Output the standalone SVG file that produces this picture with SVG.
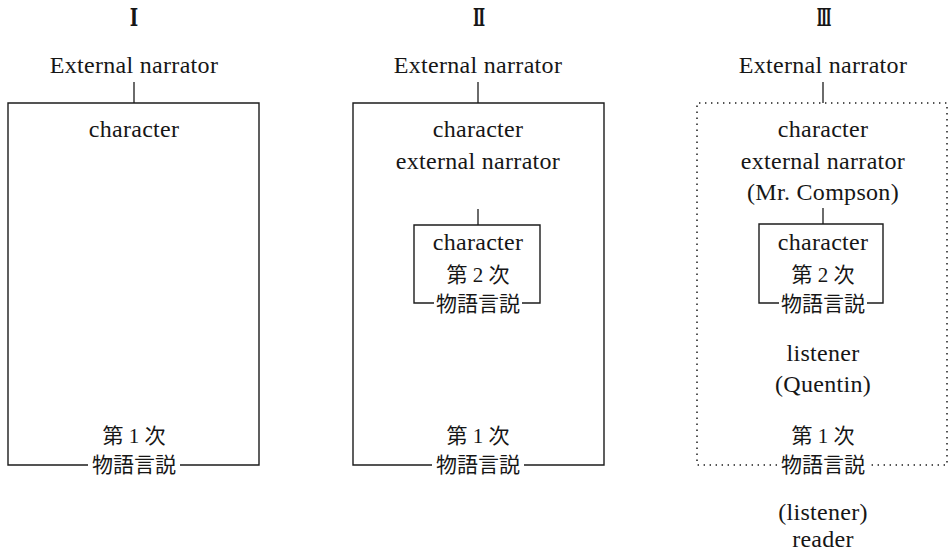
<svg xmlns="http://www.w3.org/2000/svg" width="950" height="557" viewBox="0 0 950 557">
  <style>
    .t { font-family: "Liberation Serif", "Times New Roman", "DejaVu Serif", "Noto Sans CJK JP", serif; font-size: 24px; letter-spacing: 0.3px; fill: #161616; text-anchor: middle; }
    .j { font-family: "Liberation Serif", "Times New Roman", "Noto Sans CJK JP", serif; font-size: 21px; fill: #161616; text-anchor: middle; }
    .num { font-family: "Liberation Serif", "DejaVu Serif", "Noto Sans CJK JP", serif; font-size: 24px; font-weight: bold; fill: #161616; text-anchor: middle; }
    .frame { fill: none; stroke: #1c1c1c; stroke-width: 1.4; }
    .dots { fill: none; stroke: #1c1c1c; stroke-width: 1.5; stroke-dasharray: 1.4 4.6; }
    .link { fill: none; stroke: #1c1c1c; stroke-width: 1.3; }
  </style>
  <rect width="950" height="557" fill="#ffffff"/>

  <!-- column headings (condensed roman numerals) -->
  <g id="headings">
    <text class="num" transform="translate(134,26) scale(0.75,1)">Ⅰ</text>
    <text class="num" transform="translate(479,26) scale(0.6,1)">Ⅱ</text>
    <text class="num" transform="translate(824,26) scale(0.5,1)">Ⅲ</text>
  </g>

  <!-- column I -->
  <g id="narrator-1">
    <text class="t" x="134" y="73">External narrator</text>
  </g>
  <g id="discourse-1">
    <path class="frame" d="M88,465 H8 V103 H259 V465 H180"/>
    <text class="t" x="134" y="137">character</text>
    <text class="j" x="134" y="443">第 1 次</text>
    <text class="j" x="134" y="472">物語言説</text>
  </g>

  <!-- column II -->
  <g id="narrator-2">
    <text class="t" x="478" y="73">External narrator</text>
  </g>
  <g id="discourse-2">
    <path class="frame" d="M432,465 H353 V103 H604 V465 H524"/>
    <text class="t" x="478" y="137">character</text>
    <text class="t" x="478" y="169">external narrator</text>
    <text class="j" x="478" y="443">第 1 次</text>
    <text class="j" x="478" y="472">物語言説</text>
  </g>
  <g id="inner-2">
    <path class="frame" d="M434,303 H414 V225 H540 V303 H522"/>
    <text class="t" x="478" y="250">character</text>
    <text class="j" x="478" y="282">第 2 次</text>
    <text class="j" x="478" y="311">物語言説</text>
  </g>

  <!-- column III -->
  <g id="narrator-3">
    <text class="t" x="823" y="73">External narrator</text>
  </g>
  <g id="discourse-3">
    <path class="dots" d="M777,465 H697 V103 H947 V465 H869"/>
    <text class="t" x="823" y="137">character</text>
    <text class="t" x="823" y="169">external narrator</text>
    <text class="t" x="823" y="200">(Mr. Compson)</text>
    <text class="t" x="823" y="361">listener</text>
    <text class="t" x="823" y="392">(Quentin)</text>
    <text class="j" x="823" y="443">第 1 次</text>
    <text class="j" x="823" y="472">物語言説</text>
  </g>
  <g id="inner-3">
    <path class="frame" d="M779,303 H759 V224 H883 V303 H867"/>
    <text class="t" x="823" y="250">character</text>
    <text class="j" x="823" y="282">第 2 次</text>
    <text class="j" x="823" y="311">物語言説</text>
  </g>
  <g id="reader-3">
    <text class="t" x="823" y="520">(listener)</text>
    <text class="t" x="823" y="547">reader</text>
  </g>

  <!-- connectors from narrators down to their frames -->
  <g id="connectors">
    <line class="link" x1="134" y1="82" x2="134" y2="103"/>
    <line class="link" x1="478" y1="82" x2="478" y2="103"/>
    <line class="link" x1="823" y1="82" x2="823" y2="103"/>
    <line class="link" x1="478" y1="209" x2="478" y2="225"/>
    <line class="link" x1="823" y1="208" x2="823" y2="224"/>
  </g>
</svg>
